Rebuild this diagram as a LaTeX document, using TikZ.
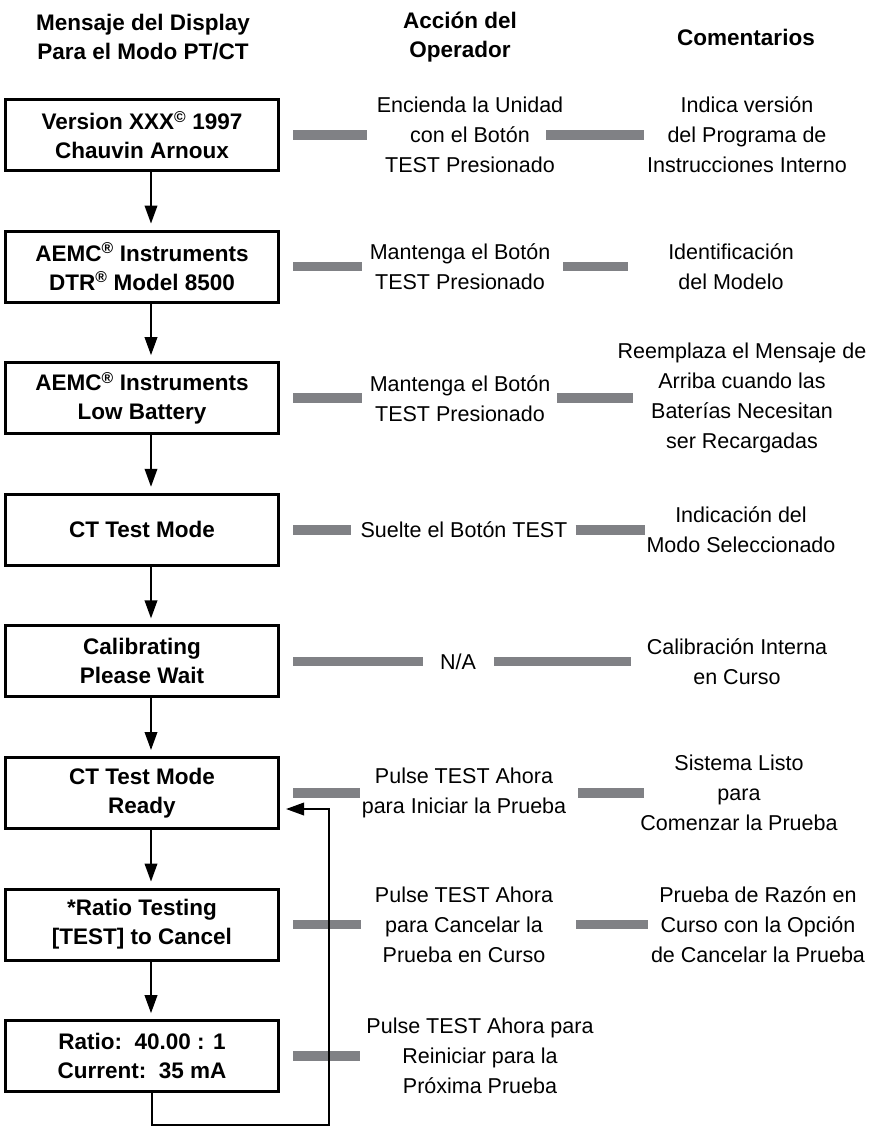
\documentclass[tikz,border=0pt]{standalone}
\usepackage{fontspec}
\setmainfont{Liberation Sans}
\usetikzlibrary{positioning, arrows.meta}
\definecolor{bargray}{RGB}{128,129,133}
\newcommand{\msgfont}{\fontsize{22.5bp}{29bp}\selectfont\bfseries}
\newcommand{\txtfont}{\fontsize{21.5bp}{30bp}\selectfont}

\begin{document}
\begin{tikzpicture}[x=1bp, y=1bp,
        node distance = 57.6bp,
        msgbox/.style = {draw, line width=3bp, minimum width=273bp, minimum height=71bp, align=center, font=\msgfont, inner sep=0pt},
        header/.style = {align=center, font=\msgfont, inner sep=0pt},
        action/.style = {align=center, font=\txtfont, inner sep=0pt},
        comment/.style = {action},
        flow/.style = {-{Triangle[length=18bp, width=12.5bp]}, line width=2bp, shorten >=6bp},
        bar/.style = {draw=bargray, line width=9.5bp}
    ]
        \useasboundingbox (0,0) rectangle (876,-1128);

        % === Column heads ===
        \node[header] (hDisplay) at (143,-37) {Mensaje del Display\\Para el Modo PT/CT};
        \node[header] (hAction) at (460,-37) {Acción del\\Operador};
        \node[header] (hComment) at (746,-37) {Comentarios};

        % === Display messages ===
        \node[msgbox] (m1) at (142,-135) {Version XXX\textsuperscript{©} 1997\\Chauvin Arnoux};
        \node[msgbox, below=of m1] (m2) {AEMC\textsuperscript{®} Instruments\\DTR\textsuperscript{®} Model 8500};
        \node[msgbox, below=of m2] (m3) {AEMC\textsuperscript{®} Instruments\\Low Battery};
        \node[msgbox, below=of m3] (m4) {CT Test Mode};
        \node[msgbox, below=of m4] (m5) {Calibrating\\Please Wait};
        \node[msgbox, below=of m5] (m6) {CT Test Mode\\Ready};
        \node[msgbox, below=of m6] (m7) {*Ratio Testing\\{[TEST]} to Cancel};
        \node[msgbox, below=of m7] (m8) {Ratio:\ \ 40.00 : 1\\Current:\ \ 35 mA};

        \coordinate (colOp) at (462,0);
        \coordinate (colCom) at (742,0);

        % === Operator actions ===
        \node[action, xshift=8bp] (a1) at (m1 -| colOp) {Encienda la Unidad\\con el Botón\\TEST Presionado};
        \node[action, xshift=-2bp] (a2) at (m2 -| colOp) {Mantenga el Botón\\TEST Presionado};
        \node[action, xshift=-2bp] (a3) at (m3 -| colOp) {Mantenga el Botón\\TEST Presionado};
        \node[action, xshift=2bp] (a4) at (m4 -| colOp) {Suelte el Botón TEST};
        \node[action, xshift=-4bp] (a5) at (m5 -| colOp) {N/A};
        \node[action, xshift=2bp] (a6) at (m6 -| colOp) {Pulse TEST Ahora\\para Iniciar la Prueba};
        \node[action, xshift=2bp] (a7) at (m7 -| colOp) {Pulse TEST Ahora\\para Cancelar la\\Prueba en Curso};
        \node[action, xshift=18bp] (a8) at (m8 -| colOp) {Pulse TEST Ahora para\\Reiniciar para la\\Próxima Prueba};

        % === Comments ===
        \node[comment, xshift=5bp] (c1) at (m1 -| colCom) {Indica versión\\del Programa de\\Instrucciones Interno};
        \node[comment, xshift=-11bp] (c2) at (m2 -| colCom) {Identificación\\del Modelo};
        \node[comment] (c3) at (m3 -| colCom) {Reemplaza el Mensaje de\\Arriba cuando las\\Baterías Necesitan\\ser Recargadas};
        \node[comment, xshift=-1bp] (c4) at (m4 -| colCom) {Indicación del\\Modo Seleccionado};
        \node[comment, xshift=-5bp] (c5) at (m5 -| colCom) {Calibración Interna\\en Curso};
        \node[comment, xshift=-3bp] (c6) at (m6 -| colCom) {Sistema Listo\\para\\Comenzar la Prueba};
        \node[comment, xshift=16bp] (c7) at (m7 -| colCom) {Prueba de Razón en\\Curso con la Opción\\de Cancelar la Prueba};

        % === Gray bars ===
        \draw[bar] ([xshift=13bp]m1.east) -- ([xshift=-10bp]a1.west);
        \draw[bar] ([xshift=-17bp]a1.east) -- ([xshift=-3bp]c1.west);
        \draw[bar] ([xshift=13bp]m2.east) -- ([xshift=-8bp]a2.west);
        \draw[bar] ([xshift=13bp]a2.east) -- ([xshift=-40bp]c2.west);
        \draw[bar] ([xshift=13bp]m3.east) -- ([xshift=-8bp]a3.west);
        \draw[bar] ([xshift=7bp]a3.east) -- ([xshift=15bp]c3.west);
        \draw[bar] ([xshift=13bp]m4.east) -- ([xshift=-9bp]a4.west);
        \draw[bar] ([xshift=8bp]a4.east) -- ([xshift=-1bp]c4.west);
        \draw[bar] ([xshift=13bp]m5.east) -- ([xshift=-17bp]a5.west);
        \draw[bar] ([xshift=18bp]a5.east) -- ([xshift=-16bp]c5.west);
        \draw[bar] ([xshift=13bp]m6.east) -- ([xshift=-2bp]a6.west);
        \draw[bar] ([xshift=12bp]a6.east) -- ([xshift=4bp]c6.west);
        \draw[bar] ([xshift=13bp]m7.east) -- ([xshift=-14bp]a7.west);
        \draw[bar] ([xshift=23bp]a7.east) -- ([xshift=-3bp]c7.west);
        \draw[bar] ([xshift=13bp]m8.east) -- ([xshift=-6bp]a8.west);

        % === Flow arrows ===
        \foreach \i/\j in {1/2, 2/3, 3/4, 4/5, 5/6, 6/7, 7/8}
            \draw[flow] ([xshift=9bp]m\i.south) -- ([xshift=9bp]m\j.north);

        % loop back to Ready
        \draw[flow] ([xshift=10bp]m8.south) -- ++(0,-32bp) -| ([xshift=49bp,yshift=-16bp]m6.east) -- ([yshift=-16bp]m6.east);

    \end{tikzpicture}
\end{document}
